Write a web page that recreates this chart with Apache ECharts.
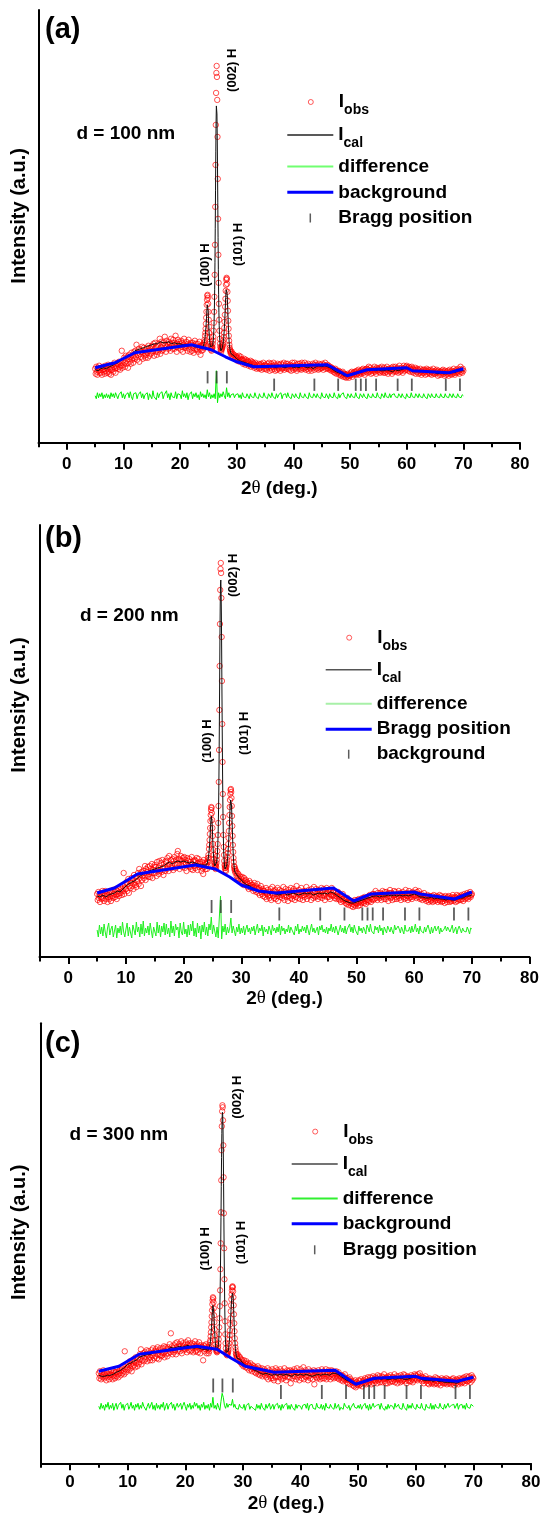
<!DOCTYPE html>
<html><head><meta charset="utf-8">
<script src="https://cdn.jsdelivr.net/npm/echarts@6/dist/echarts.min.js"></script>
<style>html,body{margin:0;padding:0;background:#fff}#c{width:542px;height:1516px}</style>
</head><body><div id="c"></div>
<script>
// ---------------- DATA ----------------
const majorTicks = [0, 10, 20, 30, 40, 50, 60, 70, 80];
const minorTicks = [-5, 5, 15, 25, 35, 45, 55, 65, 75];
const braggUpper = [24.85, 26.45, 28.25];
const braggLower = [36.6, 43.7, 47.9, 51.0, 51.9, 52.8, 54.6, 58.4, 60.9, 66.9, 69.4];
const peakLabels = ['(100) H', '(002) H', '(101) H'];
const panelLabels = ['(a)', '(b)', '(c)'];
const sizeLabels = ['d = 100 nm', 'd = 200 nm', 'd = 300 nm'];
const yName = 'Intensity (a.u.)';
const legendTextA = ['Iobs', 'Ical', 'difference', 'background', 'Bragg position'];
const legendTextB = ['Iobs', 'Ical', 'difference', 'Bragg position', 'background'];
const legendTextC = ['Iobs', 'Ical', 'difference', 'background', 'Bragg position'];

// obs: 5.0-23.9 step 0.1 | 24.00-29.00 step 0.05 | 29.1-70.0 step 0.1
// cal: 5.0-23.5 step 0.5 | 24.00-29.00 step 0.05 | 29.5-70.0 step 0.5
// diff: 5.0-70.0 step 0.2
// ---- panel (a)
const obsLowA = [74,69,76,71,68,75,72,77,70,73, 70,75,68,73,76,71,74,69,77,72,
75,70,74,78,71,69,76,73,68,75, 73,78,71,76,80,74,70,77,75,79,
79,74,81,76,73,80,77,92,75,82, 78,85,80,76,87,82,79,86,75,84,
88,81,86,79,90,83,87,80,85,91, 84,92,86,98,83,90,88,94,81,89,
93,86,91,96,84,90,95,87,92,85, 88,95,90,85,97,92,87,94,89,96,
90,97,92,99,87,94,100,91,96,88, 97,91,99,93,104,89,95,101,92,98,
93,100,95,106,98,91,102,96,99,94, 101,95,99,92,104,97,100,94,103,98,
94,100,107,96,91,99,103,95,101,97, 99,93,102,96,100,91,98,104,95,97,
95,101,97,92,99,103,94,98,91,100, 98,92,100,95,90,97,102,93,99,94,
93,99,91,96,101,94,88,97,92,98];
const obsPeakA = [96,93,98,95,100,98,103,101,107,110,114,119,125,131,138,143,147,148,145,139,
131,123,116,110,106,101,99,96,97,93,95,92,94,96,95,99,102,106,112,120,
131,146,168,198,236,278,318,350,370,377,366,343,306,264,224,188,160,139,123,112,
104,99,96,93,95,91,93,95,94,97,
96,98,100,103,106,110,115,121,128,136,144,152,158,163,165,164,159,151,142,132,122,114,107,102,98,95,93,91,92,89,90];
const obsHighA = [91,87,89,85,88,86,84,87,85,
86,82,85,83,87,81,84,86,82,83, 83,79,82,84,80,78,83,81,79,82,
81,77,80,78,82,76,79,81,77,80, 79,75,78,80,76,74,78,77,75,79,
74,78,75,79,73,77,76,80,74,77, 78,74,77,73,79,75,76,80,72,77,
75,79,73,77,76,80,74,78,72,76, 77,73,79,75,74,78,76,72,79,75,
74,78,75,80,73,77,75,79,74,76, 79,74,77,73,78,76,72,77,80,75,
73,77,80,75,74,78,72,76,79,74, 76,79,74,77,73,80,75,78,74,76,
80,75,73,78,76,74,79,72,77,75, 74,77,72,76,79,75,78,73,76,80,
78,74,77,75,73,79,76,74,78,75, 75,79,76,73,78,76,80,74,77,75,
78,74,77,75,73,76,74,72,75,73, 74,71,73,70,74,72,69,72,70,71,
72,68,71,69,67,70,68,71,66,69, 69,66,68,65,68,66,69,67,65,68,
67,70,68,71,66,69,70,68,71,69, 71,68,72,69,70,73,68,71,70,72,
69,73,71,74,70,72,68,73,71,74, 74,70,73,76,71,72,75,69,73,72,
70,74,72,76,71,73,69,75,72,74, 73,71,75,70,74,72,76,71,73,70,
75,72,70,74,71,76,73,69,74,72, 71,74,72,75,69,73,76,71,72,74,
76,71,74,72,75,70,73,77,71,74, 72,75,73,70,74,77,72,75,73,76,
77,73,75,72,76,74,71,75,73,76, 71,74,70,73,72,75,69,73,71,74,
73,69,72,70,74,71,68,72,70,73, 70,73,71,68,72,74,69,71,73,70,
72,69,73,71,68,72,70,74,69,71, 69,72,70,73,71,67,72,70,68,71,
71,68,72,70,73,69,71,67,72,70, 68,71,69,72,67,70,73,69,71,68,
72,69,71,74,70,68,72,70,73,71, 70,74,72,69,73,76,71,73,70,74,
72];
const calLowA = [73,72,74,75,74,76,77,79,80,82,85,86,88,89,92,93,94,95,96,97,98,99,99,101,100,100,101,99,100,99,99,98,98,97,98,96,96,95];
const calPeakA = [95,96,97,98,99,100,101,103,105,108,111,115,119,124,129,134,138,139,137,132,
125,118,112,107,103,100,98,96,95,94,94,94,94,95,96,97,99,102,106,112,
121,134,153,180,214,252,291,321,337,339,329,307,276,240,205,173,148,130,117,108,
102,98,95,93,92,92,92,93,94,95,
96,98,100,102,105,109,114,119,125,132,139,145,150,153,154,153,149,143,135,127,119,112,106,101,98,95,93,92,91,90,89];
const calHighA = [87,84,82,81,80,79,78,77,76,76,77,76,75,77,76,75,77,76,75,76,
77,75,76,75,77,76,75,76,74,76,77,76,77,76,75,73,71,70,69,67,
67,68,69,70,71,71,72,73,72,73,72,73,72,72,73,72,71,73,72,73,
74,75,74,72,71,72,71,72,71,70,71,70,69,70,69,69,70,71,70,72,72,72];
const diffA = [47,44,50,45,49, 46,50,44,48,45, 49,45,48,44,50, 46,49,45,50,47, 44,48,46,51,45,
49,44,48,46,50, 45,51,46,43,49, 47,50,44,48,46, 51,45,49,44,48, 46,50,43,49,47,
44,52,46,48,43, 50,45,49,47,51, 44,48,46,52,45, 49,43,50,46,48, 45,51,44,49,47,
48,44,52,46,49, 45,50,43,48,46, 51,44,49,46,50, 45,48,43,51,46, 49,45,48,44,53,
46,50,44,48,45, 49,44,72,40,50, 45,49,46,51,47, 44,55,46,50,45, 48,46,49,45,48,
46,49,45,48,44, 50,46,48,45,49, 47,44,49,46,48, 45,50,46,48,44, 49,46,48,45,50,
46,48,44,49,47, 45,50,46,48,44, 49,45,48,46,50, 44,48,46,49,45, 50,46,48,44,49,
47,45,49,46,48, 44,50,46,48,45, 49,46,48,44,50, 46,48,45,49,47, 45,49,46,48,44,
50,46,48,45,49, 47,44,49,46,48, 45,50,46,48,44, 49,45,48,46,50, 46,48,44,49,47,
45,49,46,48,45, 50,46,48,44,49, 47,45,49,46,48, 44,49,46,48,45, 49,46,48,45,50,
46,48,44,49,47, 45,50,46,48,45, 49,45,48,46,49, 46,48,45,49,47, 45,49,46,48,44,
49,46,48,45,50, 46,48,45,49,47, 45,49,46,48,45, 49,46,48,44,49, 47,45,49,46,48,
45,49,46,48,45, 49,46,48,45,49, 46,48,45,49,47, 45,49,46,48,45, 49,46,48,45,48,
47];
const bgXA = [5, 8.5, 12, 22, 25.5, 28, 30, 33, 46, 49.5, 53, 60, 61, 67.5, 70];
const bgYA = [75, 80, 90, 98, 93, 86, 81, 76, 78, 67, 73, 75, 72, 70, 74];
const braggLevelA = [65.5, 58];
const peakPosA = [[24.5, 177.7], [29.26, 372.7], [30.23, 198.4]];

// ---- panel (b)
const obsLowB = [63,57,65,59,61,55,64,60,58,66, 59,64,56,62,66,58,61,63,55,60,
62,58,66,60,56,64,61,67,59,63, 65,60,68,62,58,66,63,69,61,64,
70,64,68,62,71,66,84,63,69,72, 68,75,66,73,78,64,71,76,69,74,
79,71,77,68,82,74,72,80,70,76, 76,84,73,88,79,82,71,85,77,81,
86,79,84,91,77,88,81,85,90,80, 83,91,80,88,85,93,79,87,84,90,
92,84,90,81,95,87,89,83,96,86, 87,94,85,97,89,82,93,90,86,96,
95,88,99,91,86,101,93,90,97,89, 91,98,87,96,100,93,89,97,92,103,
106,94,98,88,97,101,92,96,90,99, 93,100,89,97,94,86,99,92,96,91,
98,90,95,88,100,93,87,96,91,97, 89,96,92,99,87,94,98,90,93,95,
91,86,95,89,83,97,90,94,88,93];
const obsPeakB = [93,88,96,91,99,95,102,99,108,112,117,123,129,136,142,147,150,149,144,137,
129,121,113,107,102,98,95,92,94,89,91,88,92,90,94,97,101,106,113,122,
134,151,175,207,247,291,333,367,388,394,384,359,320,276,233,195,163,140,122,110,
102,96,92,89,91,87,89,86,90,92,
94,97,100,104,108,113,119,126,134,142,150,157,163,167,168,165,159,151,141,131,121,112,105,99,95,91,88,90,86,88,84];
const obsHighB = [86,81,84,79,83,78,81,76,80,
78,74,80,75,72,79,76,73,77,74, 75,70,73,68,76,71,74,69,72,70,
72,66,70,74,67,71,65,69,73,68, 64,69,62,67,71,65,63,68,61,66,
66,60,64,69,58,63,67,61,65,59, 62,68,57,64,70,61,66,59,63,67,
58,65,61,69,56,63,67,60,64,62, 66,59,63,70,61,57,65,68,62,60,
64,56,67,61,65,59,69,62,58,66, 61,68,63,57,66,60,71,64,59,63,
67,62,58,65,69,61,64,57,66,62, 60,66,63,70,58,64,61,67,62,65,
63,57,68,62,65,59,70,61,66,60, 68,61,64,58,67,63,60,66,62,69,
59,65,62,68,61,57,66,63,69,60, 64,67,60,63,58,66,62,69,61,65,
62,66,59,64,61,58,63,60,65,58, 61,57,62,55,60,58,63,56,59,57,
58,54,57,53,59,55,52,57,54,56, 55,51,56,53,50,55,52,57,51,54,
53,57,54,51,58,55,52,56,54,57, 59,55,58,54,60,56,53,59,57,55,
57,61,56,62,59,55,60,58,63,57, 63,58,62,66,59,61,57,64,60,62,
59,64,61,57,63,66,60,62,58,65, 62,58,65,60,63,56,64,61,67,59,
64,60,57,63,61,66,58,62,65,60, 58,63,61,66,59,62,64,57,63,61,
65,60,63,58,62,67,59,64,61,57, 61,66,59,63,60,64,58,65,62,60,
64,61,67,62,59,65,63,60,66,62, 58,62,59,63,57,61,60,64,58,61,
60,56,59,62,57,55,61,58,60,56, 57,61,55,59,62,58,56,60,57,61,
59,55,60,57,62,56,58,61,55,59, 56,60,58,54,61,57,59,55,60,58,
61,57,55,59,56,60,58,62,56,59, 57,60,55,59,62,56,58,61,57,60,
60,57,62,58,61,56,60,63,58,61, 62,59,64,60,58,63,61,65,60,62,
63];
const calLowB = [61,60,62,60,62,63,64,66,65,68,71,73,75,76,79,81,83,84,86,87,88,89,90,91,93,95,93,95,96,95,96,95,94,95,94,93,92,92];
const calPeakB = [92,93,94,95,96,98,100,102,105,108,112,117,122,128,133,138,141,142,139,133,
126,118,111,105,100,97,94,92,91,90,90,90,91,92,93,95,98,102,108,116,
127,143,165,195,233,275,318,352,373,377,367,343,307,266,225,189,158,135,118,106,
99,94,91,89,88,87,87,88,89,90,
92,94,97,100,104,109,114,120,127,134,141,148,153,157,159,157,152,145,137,128,119,111,104,98,94,91,88,86,85,84,83];
const calHighB = [80,77,74,72,71,69,67,66,65,64,65,63,64,63,62,63,64,62,63,64,
63,62,63,64,63,64,62,63,64,63,64,63,65,64,62,60,58,56,55,54,
54,55,56,57,58,59,60,61,61,60,61,61,62,61,62,61,62,61,62,61,
62,63,62,60,60,59,59,60,58,59,58,58,57,58,57,57,58,59,59,61,61,62];
const diffB = [27,20,32,23,30, 21,33,25,19,29, 34,22,28,31,20, 26,32,19,29,24, 31,22,35,25,20,
28,34,21,30,24, 19,32,27,22,35, 25,30,20,33,23, 36,21,29,24,31, 22,34,26,19,30,
28,21,35,24,32, 20,31,25,34,22, 33,23,29,20,36, 24,31,21,33,27, 30,19,34,25,22,
35,23,28,20,32, 22,33,26,36,21, 29,20,34,24,31, 18,32,25,35,22, 30,21,33,27,40,
23,32,26,20,30, 19,20,61,18,31, 25,33,22,30,24, 29,39,24,31,26, 21,30,25,33,23,
29,24,31,22,28, 32,25,29,23,30, 26,31,22,28,33, 24,29,26,32,21, 30,25,28,23,31,
27,22,32,26,29, 24,30,25,33,22, 31,26,29,23,28, 25,32,24,30,27, 29,22,31,26,33,
23,28,25,31,26, 30,24,32,27,22, 28,33,25,29,24, 26,30,22,31,27, 32,25,28,24,30,
23,29,26,33,25, 30,24,31,27,22, 27,32,25,29,24, 31,23,28,26,33, 25,30,24,32,27,
28,22,31,26,29, 24,30,27,23,32, 29,25,33,26,28, 23,31,27,30,24, 32,26,29,22,30,
27,24,31,28,25, 30,26,23,32,27, 25,31,28,24,30, 29,23,32,26,28, 26,30,24,31,25,
28,33,25,29,23, 31,26,28,24,30, 25,29,32,27,23, 30,24,28,31,26, 27,31,23,29,25,
24,28,31,26,30, 29,25,27,32,24, 26,30,23,28,31, 31,24,29,26,27, 25,30,27,23,29,
28];
const bgXB = [5, 8, 12, 22, 25.5, 28, 30, 33, 36, 46, 49.5, 52.5, 60, 61, 67, 70];
const bgYB = [64, 69, 83, 92, 88, 80, 72, 66, 64, 69, 56, 63, 65, 63, 58, 65];
const braggLevelB = [50.5, 43];
const peakPosB = [[24.07, 216], [28.72, 381.7], [30.6, 223.7]];

// ---- panel (c)
const obsLowC = [90,85,92,87,84,91,88,86,93,89, 85,90,87,83,91,86,89,92,84,88,
89,93,86,90,84,88,92,87,85,91, 91,87,94,89,86,92,90,95,88,93,
95,90,97,92,89,112,94,91,98,96, 94,100,93,98,102,95,99,92,101,97,
104,98,102,96,106,100,103,97,105,99, 101,109,104,114,99,107,103,110,102,106,
111,104,109,113,102,108,112,105,110,103, 106,113,108,103,115,110,105,112,107,114,
112,105,116,109,104,113,108,115,107,111, 108,115,110,117,106,112,116,109,114,107,
116,110,114,119,111,130,113,117,109,115, 111,118,113,120,109,116,121,112,117,114,
119,112,117,122,110,116,120,113,118,115, 114,121,116,111,119,123,113,117,120,112,
118,113,120,115,111,119,116,122,112,117, 113,119,111,117,121,114,110,118,115,116,
116,103,118,112,117,114,119,110,116,113];
const obsPeakC = [114,110,116,112,118,115,121,123,127,131,136,141,147,153,159,163,166,165,161,155,
148,141,134,128,123,119,116,114,112,113,111,113,112,115,117,120,124,129,136,145,
157,173,194,220,251,283,313,337,352,358,356,343,318,286,250,215,184,160,142,129,
120,115,111,109,110,108,110,109,111,112,
114,117,120,124,128,133,139,145,152,158,164,169,173,176,177,176,172,166,158,149,140,132,125,120,116,113,110,108,109,106,107];
const obsHighC = [109,104,107,102,106,101,104,99,103,
101,97,103,98,100,96,102,99,95,100, 98,93,97,100,94,96,92,98,95,97,
95,91,96,90,94,92,97,89,93,95, 88,93,90,95,87,92,89,94,91,88,
92,86,90,95,84,89,93,87,91,85, 88,94,85,90,83,92,87,95,86,91,
93,82,89,91,86,94,88,84,92,87, 85,91,95,87,90,83,89,93,86,92,
90,86,93,80,89,92,85,91,87,94, 87,92,84,90,95,86,91,88,83,90,
94,88,85,92,89,96,84,90,87,93, 86,91,88,83,94,87,90,85,92,89,
91,84,89,93,79,88,92,86,90,85, 88,93,86,90,84,91,87,94,85,89,
92,85,90,87,94,84,89,91,86,93, 87,91,84,89,93,86,92,88,85,90,
90,86,92,87,89,85,91,84,88,86, 87,83,88,85,82,87,84,89,83,85,
84,81,85,80,83,86,79,84,82,81, 81,78,82,77,80,83,76,81,79,78,
80,83,78,82,79,84,80,77,82,81, 83,80,85,81,79,84,82,86,80,83,
81,86,83,79,85,82,87,80,84,83, 86,82,85,80,88,83,84,87,81,85,
83,87,81,86,84,89,82,85,80,86, 85,80,87,83,86,81,88,84,82,86,
82,86,84,89,81,85,83,87,80,84, 87,83,85,81,88,84,82,86,83,89,
84,88,82,86,80,85,87,83,86,82, 86,82,88,84,85,81,87,83,89,85,
88,84,87,83,89,85,86,90,84,87, 85,82,86,83,80,85,84,87,82,84,
83,80,84,79,85,82,81,84,80,83, 81,84,79,83,86,80,82,85,79,82,
84,80,83,78,82,85,81,83,80,84, 80,83,81,85,79,82,84,80,83,81,
83,79,82,84,80,85,81,78,83,82, 80,84,81,83,79,82,85,81,84,80,
84,81,85,82,86,80,84,83,87,82, 82,86,83,87,84,81,85,88,83,86,
85];
const calLowC = [88,87,87,88,88,89,91,92,94,96,99,100,102,103,106,107,108,109,109,111,111,112,113,112,114,116,115,116,117,116,117,118,116,115,116,115,114,114];
const calPeakC = [113,113,114,115,116,117,119,121,124,127,131,136,141,146,151,155,158,159,156,151,
145,138,132,126,122,118,116,114,113,112,112,112,113,114,116,118,122,127,134,143,
155,171,191,216,246,277,306,330,345,351,348,335,311,280,246,212,182,158,140,127,
119,114,111,110,109,109,109,110,111,112,
114,116,119,122,126,131,136,142,148,154,159,164,167,169,170,169,166,161,154,146,138,131,124,119,115,112,110,108,107,106,105];
const calHighC = [104,100,98,96,95,93,92,90,89,90,89,88,89,88,89,88,89,88,87,89,
88,89,88,89,88,87,88,89,88,89,89,88,90,90,89,87,85,83,82,80,
79,80,81,82,83,84,84,84,85,84,85,84,84,85,84,85,85,84,84,85,
86,86,86,84,83,83,83,82,83,82,82,81,81,81,81,80,81,83,84,84,85,86];
const diffC = [57,54,60,55,58, 53,59,56,61,54, 58,55,60,53,57, 60,54,58,56,61, 55,59,53,58,56,
60,54,57,61,55, 58,53,59,56,60, 54,58,55,61,57, 59,53,57,60,55, 56,61,54,58,53,
60,55,58,54,59, 56,61,53,57,60, 54,58,56,61,55, 59,53,57,60,56, 55,60,54,58,61,
57,53,59,56,60, 54,58,55,61,57, 60,55,58,53,59, 56,61,54,58,55, 59,53,60,56,66,
55,58,54,60,56, 53,62,70,66,58, 55,60,56,59,57, 58,64,56,59,55, 57,54,59,56,58,
55,59,53,58,56, 60,54,57,59,55, 57,53,59,55,58, 54,60,56,58,53, 59,55,57,60,54,
56,59,54,58,57, 60,55,58,53,59, 55,58,56,60,54, 58,54,59,56,57, 53,59,55,58,60,
57,54,58,56,59, 55,60,53,58,56, 59,55,57,54,60, 56,58,55,59,54, 58,53,60,56,57,
55,59,56,58,54, 60,55,57,59,53, 56,58,54,60,57, 59,55,58,53,56, 54,60,56,58,55,
58,55,59,54,57, 56,60,55,58,53, 59,54,57,60,56, 55,58,56,59,54, 60,56,58,53,57,
54,59,55,58,60, 57,54,60,56,58, 59,55,57,54,60, 56,58,53,59,55, 58,55,60,56,57,
54,59,56,58,55, 60,55,57,53,59, 56,58,55,60,54, 58,54,59,56,57, 55,60,56,58,54,
59,55,57,60,56, 54,58,56,59,55, 57,60,54,58,56, 59,55,58,54,60, 56,58,55,59,57,
57];
const bgXC = [5, 8.5, 12, 22, 25.5, 28, 30.4, 35.4, 46, 49.6, 52.8, 60, 61, 67.2, 70];
const bgYC = [92, 97, 109, 117, 114, 105, 97, 91, 93, 79, 85, 87, 85, 82, 86];
const braggLevelC = [77.8, 71.3];
const peakPosC = [[23.57, 214.5], [29.08, 366.1], [29.8, 220.8]];

// ---------------- BUILD ----------------
const FONT = '"Liberation Sans", Arial, Helvetica, sans-serif';
function seg(start, step, vals) {
  return vals.map((v, i) => [Math.round((start + i * step) * 100) / 100, v]);
}
function pairs(xs, ys) { return xs.map((x, i) => [x, ys[i]]); }
function bragg(level) {
  return braggUpper.map(x => [x, level[0]]).concat(braggLower.map(x => [x, level[1]]));
}
function panel(oL, oP, oH, cL, cP, cH, d, bx, by, bl, pk, lg) {
  return {
    obs: seg(5, 0.1, oL).concat(seg(24, 0.05, oP), seg(29.1, 0.1, oH)),
    cal: seg(5, 0.5, cL).concat(seg(24, 0.05, cP), seg(29.5, 0.5, cH)),
    diff: seg(5, 0.2, d), bg: pairs(bx, by), bragg: bragg(bl), peaks: pk, legend: lg
  };
}
const panels = [
  panel(obsLowA, obsPeakA, obsHighA, calLowA, calPeakA, calHighA, diffA, bgXA, bgYA, braggLevelA, peakPosA, legendTextA),
  panel(obsLowB, obsPeakB, obsHighB, calLowB, calPeakB, calHighB, diffB, bgXB, bgYB, braggLevelB, peakPosB, legendTextB),
  panel(obsLowC, obsPeakC, obsHighC, calLowC, calPeakC, calHighC, diffC, bgXC, bgYC, braggLevelC, peakPosC, legendTextC)
];

const layout = [
  { grid: { left: 38.5, top: 10, width: 481.5, height: 432.7 }, yMax: 433, tick: 12.3,
    legendLeft: 287.3, legendY: [103, 136, 166.5, 192.3, 218],
    diffLegend: '#70ff70', calLegend: '#222', diffColor: '#00f000',
    labelPos: { left: 45, top: 15 }, sizePos: { left: 76.4, top: 124.2 },
    xNameGap: 35.6, xLabelMargin: 12.8, yNameGap: 9.5, yNamePad: 21 },
  { grid: { left: 39.5, top: 525, width: 490, height: 432 }, yMax: 432, tick: 13,
    legendLeft: 325.7, legendY: [638.7, 670.8, 703.8, 729.2, 754.2],
    diffLegend: '#a8f0a8', calLegend: '#555', diffColor: '#22f022',
    labelPos: { left: 45, top: 523.5 }, sizePos: { left: 79.9, top: 606 },
    xNameGap: 31.3, xLabelMargin: 12.8, yNameGap: 10.5, yNamePad: 72 },
  { grid: { left: 41.2, top: 1023.3, width: 489.8, height: 440 }, yMax: 440, tick: 14,
    legendLeft: 291.7, legendY: [1132.6, 1165, 1198.4, 1223.7, 1249.8],
    diffLegend: '#30f030', calLegend: '#444', diffColor: '#00f000',
    labelPos: { left: 45, top: 1028.5 }, sizePos: { left: 69.5, top: 1125 },
    xNameGap: 30, xLabelMargin: 10.7, yNameGap: 12.2, yNamePad: 22 }
];

const grid = [], xAxis = [], yAxis = [], series = [], legend = [], title = [];
const textBase = { color: '#000', fontFamily: FONT, fontWeight: 'bold' };
const richLegend = {
  i: { fontSize: 19, fontWeight: 'bold', fontFamily: FONT, color: '#000', lineHeight: 22 },
  s: { fontSize: 14, fontWeight: 'bold', fontFamily: FONT, color: '#000', lineHeight: 16, padding: [17, 0, 0, 0] }
};

panels.forEach((P, p) => {
  const L = layout[p];
  grid.push(Object.assign({ outerBoundsMode: 'none', containLabel: false }, L.grid));
  xAxis.push({
    gridIndex: p, type: 'value', min: -5, max: 80,
    name: '{b|2}{t|θ}{b| (deg.)}', nameLocation: 'middle', nameGap: L.xNameGap,
    nameTextStyle: Object.assign({}, textBase, { fontSize: 19, lineHeight: 20,
      rich: { b: { fontSize: 19, fontWeight: 'bold', fontFamily: FONT, color: '#000', lineHeight: 20 },
              t: { fontSize: 19, fontWeight: 'normal', fontFamily: '"Liberation Serif", "DejaVu Serif", serif', color: '#000', lineHeight: 20 } } }),
    axisLine: { show: true, onZero: false, lineStyle: { color: '#000', width: 2 } },
    axisTick: { show: true, customValues: majorTicks, length: 7, inside: false, lineStyle: { color: '#000', width: 2 } },
    axisLabel: Object.assign({ show: true, customValues: majorTicks, margin: L.xLabelMargin, fontSize: 17, lineHeight: 17 }, textBase),
    splitLine: { show: false }
  });
  xAxis.push({
    gridIndex: p, type: 'value', min: -5, max: 80, position: 'bottom',
    axisLine: { show: false, onZero: false },
    axisTick: { show: true, customValues: minorTicks, length: 4.5, lineStyle: { color: '#000', width: 2 } },
    axisLabel: { show: false }, splitLine: { show: false }
  });
  yAxis.push({
    gridIndex: p, type: 'value', min: 0, max: L.yMax,
    name: yName, nameLocation: 'middle', nameGap: L.yNameGap,
    nameTextStyle: Object.assign({}, textBase, { fontSize: 20, lineHeight: 20, padding: [0, 0, 0, L.yNamePad] }),
    axisLine: { show: true, onZero: false, lineStyle: { color: '#000', width: 2 } },
    axisTick: { show: false }, axisLabel: { show: false }, splitLine: { show: false }
  });
  const nm = ['obs', 'cal', 'diff', 'line', 'tick'].map(k => 'p' + p + '_' + k);
  const xi = 2 * p;
  series.push({ name: nm[0], type: 'scatter', xAxisIndex: xi, yAxisIndex: p, data: P.obs,
    symbol: 'circle', symbolSize: 5.4, silent: true, z: 2,
    itemStyle: { color: 'rgba(0,0,0,0)', borderColor: 'rgba(255,0,0,0.85)', borderWidth: 1 } });
  series.push({ name: nm[1], type: 'line', xAxisIndex: xi, yAxisIndex: p, data: P.cal,
    symbol: 'none', showSymbol: false, silent: true, z: 3, color: '#000',
    lineStyle: { color: '#111', width: 1 },
    markPoint: { silent: true, symbol: 'circle', symbolSize: 1, itemStyle: { color: 'rgba(0,0,0,0)' },
      label: Object.assign({ show: true, position: 'inside', rotate: 90, fontSize: 13, formatter: '{b}' }, textBase),
      data: peakLabels.map((t, i) => ({ name: t, coord: P.peaks[i] })) } });
  series.push({ name: nm[2], type: 'line', xAxisIndex: xi, yAxisIndex: p, data: P.diff,
    symbol: 'none', showSymbol: false, silent: true, z: 3, color: L.diffColor,
    lineStyle: { color: L.diffColor, width: 1 } });
  series.push({ name: nm[3], type: 'line', xAxisIndex: xi, yAxisIndex: p, data: P.bg,
    symbol: 'none', showSymbol: false, silent: true, z: 4, color: '#0000ff',
    lineStyle: { color: '#0000ff', width: 3 } });
  series.push({ name: nm[4], type: 'scatter', xAxisIndex: xi, yAxisIndex: p, data: P.bragg,
    symbol: 'rect', symbolSize: [1.8, L.tick], silent: true, z: 5, itemStyle: { color: '#333' } });

  const kinds = [
    { icon: 'circle', h: 5, shift: 20.5, style: { color: 'rgba(0,0,0,0)', borderColor: 'rgba(255,0,0,0.8)', borderWidth: 1 } },
    { icon: 'rect', h: 1.5, shift: 0, style: { color: L.calLegend, borderWidth: 0 } },
    { icon: 'rect', h: 2, shift: 0, style: { color: L.diffLegend, borderWidth: 0 } },
    { icon: 'rect', h: 3, shift: 0, style: { color: '#0000ff', borderWidth: 0 } },
    { icon: 'path://M0,0h2v12h-2z', h: 9, shift: 22.25, style: { color: '#333', borderWidth: 0 } }
  ];
  P.legend.forEach((txt, k) => {
    const sub = (txt === 'Iobs' || txt === 'Ical') ? txt.slice(1) : null;
    const boxH = sub ? 33 : 20;
    legend.push({
      show: true, selectedMode: false, orient: 'horizontal', padding: 0, itemGap: 0,
      left: L.legendLeft + kinds[k].shift, top: L.legendY[k] - boxH / 2,
      itemWidth: 46, itemHeight: kinds[k].h, itemStyle: kinds[k].style,
      data: [{ name: nm[k], icon: kinds[k].icon }],
      formatter: () => sub ? '{i|I}{s|' + sub + '}' : txt,
      textStyle: Object.assign({ fontSize: 19, lineHeight: 20, rich: richLegend }, textBase)
    });
  });

  title.push({ text: panelLabels[p], left: L.labelPos.left, top: L.labelPos.top, padding: 0,
    textStyle: Object.assign({ fontSize: 29, lineHeight: 30 }, textBase) });
  title.push({ text: sizeLabels[p], left: L.sizePos.left, top: L.sizePos.top, padding: 0,
    textStyle: Object.assign({ fontSize: 19, lineHeight: 20 }, textBase) });
});

const chart = echarts.init(document.getElementById('c'), null, { renderer: 'canvas' });
chart.setOption({
  backgroundColor: '#fff', animation: false,
  title, legend, grid, xAxis, yAxis, series
});
</script></body></html>
